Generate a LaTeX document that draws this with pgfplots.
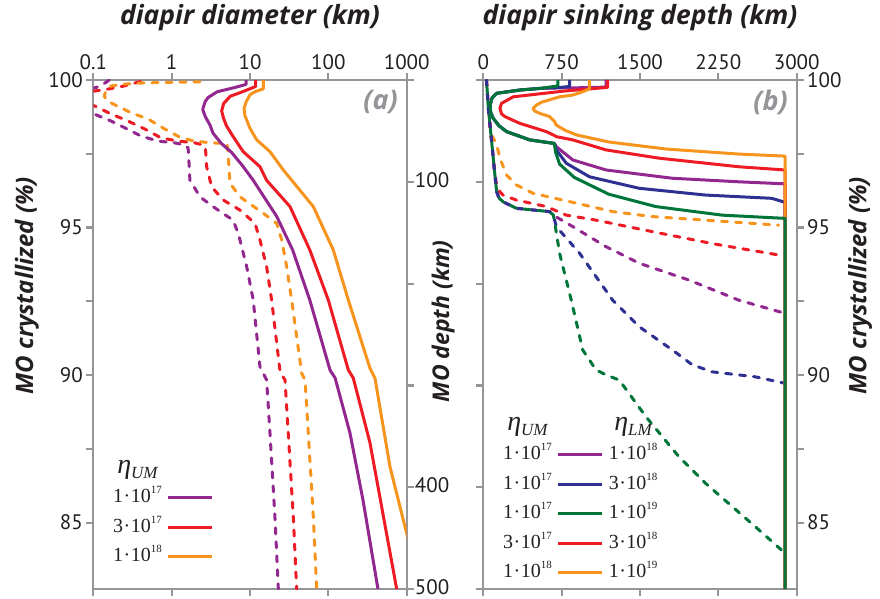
\documentclass[border=0pt]{standalone}
\usepackage{fontspec}
\setmainfont{PT Sans}
\newfontfamily\legfont{Liberation Serif}
\newfontfamily\labfont{Open Sans}
\usepackage{pgfplots}
\pgfplotsset{compat=1.18}

\definecolor{cgray}{HTML}{939598}
\definecolor{ctext}{HTML}{231F20}
\definecolor{cpur}{HTML}{92278F}
\definecolor{cred}{HTML}{ED1C24}
\definecolor{corg}{HTML}{F7941D}
\definecolor{cblu}{HTML}{2E3192}
\definecolor{cgrn}{HTML}{00753A}

% legend texts: 1.10^17 and eta_UM
\newcommand\ev[2]{#1\kern0.5pt·\kern0.5pt10\raisebox{0.45em}{\fontsize{11}{12}\selectfont #2}}
\newcommand\visc[1]{{\fontsize{28}{30}\selectfont\itshape η}\raisebox{-0.25em}{\fontsize{17}{18}\selectfont\itshape #1}}

\pgfplotsset{
  panel/.style={
    scale only axis, width=313.4pt, height=509pt, anchor=south west,
    ymin=82.75, ymax=100,
    ytick={85,87.5,90,92.5,95,97.5,100}, yticklabels={85,,90,,95,,100},
    axis line style={cgray, line width=2.2pt},
    every tick/.style={cgray, line width=2.2pt},
    major tick length=7pt, tick align=outside,
    ticklabel style={font=\fontsize{21}{24}\selectfont, text=ctext},
    /pgf/number format/assume math mode=true,
    title style={font=\labfont\fontsize{26.5}{30}\selectfont\bfseries\itshape, text=ctext,
      at={(axis description cs:0.5,1)}, anchor=center, yshift=56pt},
    label style={font=\labfont\fontsize{24}{28}\selectfont\bfseries\itshape, text=ctext},
    legend style={draw=none, fill=none, inner sep=0pt,
      font=\legfont\fontsize{20}{24}\selectfont, text=ctext,
      nodes={inner sep=0pt, inner xsep=3pt, text height=14pt, text depth=4pt},
      row sep=11.5pt, column sep=2pt},
    legend cell align=center, legend plot pos=right,
    legend image code/.code={\draw[##1, line width=3pt, solid] (0pt,0pt) -- (44pt,0pt);},
  },
  depth/.style={
    scale only axis, width=313.4pt, height=509pt, anchor=south west,
    xmin=0, xmax=1, ymin=0, ymax=500, y dir=reverse, hide x axis,
    axis line style={draw=none},
    every tick/.style={cgray, line width=2.2pt},
    major tick length=7pt, tick align=outside,
    ytick={0,100,200,300,400,500},
    ticklabel style={font=\fontsize{21}{24}\selectfont, text=ctext},
    label style={font=\labfont\fontsize{23}{26}\selectfont\bfseries\itshape, text=ctext},
  },
  sol/.style={line width=3pt, line join=round, forget plot},
  das/.style={line width=3pt, line cap=round, line join=round, dash pattern=on 6pt off 8pt, forget plot},
}

\begin{document}
\begin{tikzpicture}
\useasboundingbox (0,0) rectangle (880pt,599pt);

% ---------------- (a) diapir diameter ----------------
\begin{axis}[panel, at={(93.3pt,10pt)},
  xmode=log, xmin=0.1, xmax=1000, xminorticks=false,
  xtick={0.1,1,10,100,1000}, xticklabels={0.1,1,10,100,1000},
  xtick pos=both, xticklabel pos=top, ytick pos=left,
  title={diapir diameter (km)},
  ylabel={MO crystallized (\%)},
  ylabel style={at={(axis description cs:-0.212,0.596)}, anchor=center},
  legend style={at={(axis description cs:0.053,0.255)}, anchor=north west},
]
\addlegendimage{empty legend}\addlegendentry{\visc{UM}}
\addlegendimage{cpur}\addlegendentry{\ev{1}{17}}
\addlegendimage{cred}\addlegendentry{\ev{3}{17}}
\addlegendimage{corg}\addlegendentry{\ev{1}{18}}

% dashed
\addplot[das, cpur] coordinates {(0.16,100) (0.125,99.8) (0.1,99.72) (0.06,99.5) (0.06,99.1)
 (0.104,98.84) (0.168,98.61) (0.252,98.38) (0.406,98.10) (0.67,97.93) (1.09,97.87) (1.45,97.8)
 (1.62,97.7) (1.64,97.53) (1.71,96.61) (2.30,96.04) (3.37,95.71) (6.07,95.25) (7.09,94.80)
 (9.08,93.67) (11.0,92.54) (13.4,90.28) (16.3,89.83) (18.0,88.02) (20.8,85.20) (23.0,82.75)};
\addplot[das, cred] coordinates {(0.40,99.95) (0.25,99.8) (0.16,99.7) (0.1,99.62) (0.06,99.4)
 (0.07,99.2) (0.104,99.12) (0.168,98.85) (0.277,98.61) (0.453,98.34) (0.731,98.04) (1.2,97.93)
 (1.97,97.87) (2.5,97.8) (2.7,97.7) (2.8,97.06) (3.24,96.38) (4.56,95.93) (7.45,95.59)
 (11.6,95.14) (13.4,94.58) (16.3,93.67) (18.9,92.54) (24.2,90.11) (28.0,89.83) (30.8,88.02)
 (35.7,85.20) (39.4,82.75)};
\addplot[das, corg] coordinates {(2.3,99.94) (1.0,99.92) (0.43,99.9) (0.25,99.86) (0.17,99.8)
 (0.145,99.65) (0.138,99.45) (0.15,99.3) (0.178,99.19) (0.226,99.06) (0.303,98.89) (0.499,98.68)
 (0.815,98.34) (1.316,98.04) (1.97,97.93) (3.18,97.87) (5.04,97.85) (5.2,97.7) (5.28,97.40)
 (5.56,96.50) (7.45,96.04) (14.8,95.48) (21.9,95.14) (25.4,94.58) (29.4,93.67) (34.0,92.54)
 (45.7,90.06) (50.4,89.83) (55.5,88.02) (64.3,85.20) (71.0,82.75)};
% solid
\addplot[sol, cpur] coordinates {(8.9,100) (8.9,99.85) (6.5,99.75) (3.8,99.6) (2.9,99.4)
 (2.67,99.26) (2.49,99.0) (2.7,98.75) (3.09,98.47) (3.37,98.2) (4.3,97.85) (5.8,97.55)
 (8,97.1) (11,96.6) (22,95.37) (35,94.24) (58,92.54) (105,90.17) (122,89.9) (189,88.03)
 (277,85.76) (430,82.75)};
\addplot[sol, cred] coordinates {(11.8,100) (11.8,99.78) (8,99.6) (5.6,99.45) (4.6,99.2)
 (4.35,98.95) (4.6,98.7) (5.0,98.45) (6.1,98.08) (8.2,97.57) (13.4,97.06) (16.3,96.6)
 (32.4,95.71) (58,94.24) (100,92.54) (180,90.17) (208,89.9) (340,87.7) (745,82.75)};
\addplot[sol, corg] coordinates {(14.8,100) (14.8,99.7) (11.5,99.6) (10,99.5) (8.9,99.25)
 (8.4,99.04) (8.6,98.8) (10,98.36) (12.2,97.97) (18,97.57) (26.6,96.95) (64.3,95.71)
 (115.6,94.24) (180,92.54) (340,90.23) (394,89.89) (612,86.89) (1000,84.63) (1510,82.75)};

\node[anchor=north east, inner sep=0pt, font=\labfont\fontsize{27}{30}\selectfont\bfseries\itshape,
  text=cgray] at (axis description cs:0.972,0.98) {(a)};
\end{axis}

% depth axis on the right side of (a)
\begin{axis}[depth, at={(93.3pt,10pt)},
  ytick pos=right, yticklabel pos=right,
  yticklabels={,100,,,400,500},
  yticklabel style={inner sep=1pt, yshift=2pt},
  ylabel={MO depth (km)},
  ylabel style={at={(axis description cs:1.116,0.526)}, anchor=center},
]
\end{axis}

% ---------------- (b) diapir sinking depth ----------------
\begin{axis}[panel, at={(483.3pt,10pt)},
  xmin=0, xmax=3000,
  xtick={0,750,1500,2250,3000}, xticklabels={0,750,1500,2250,3000},
  xtick pos=both, xticklabel pos=top, ytick pos=right, yticklabel pos=right,
  title={diapir sinking depth (km)},
  ylabel={MO crystallized (\%)},
  ylabel style={at={(axis description cs:1.202,0.596)}, anchor=center},
  legend columns=2,
  legend style={at={(axis description cs:0.053,0.34)}, anchor=north west},
]
\addlegendimage{empty legend}\addlegendentry{\visc{UM}}
\addlegendimage{empty legend}\addlegendentry{\visc{LM}}
\addlegendimage{cpur}\addlegendentry{\ev{1}{17}}
\addlegendimage{empty legend}\addlegendentry{\ev{1}{18}}
\addlegendimage{cblu}\addlegendentry{\ev{1}{17}}
\addlegendimage{empty legend}\addlegendentry{\ev{3}{18}}
\addlegendimage{cgrn}\addlegendentry{\ev{1}{17}}
\addlegendimage{empty legend}\addlegendentry{\ev{1}{19}}
\addlegendimage{cred}\addlegendentry{\ev{3}{17}}
\addlegendimage{empty legend}\addlegendentry{\ev{3}{18}}
\addlegendimage{corg}\addlegendentry{\ev{1}{18}}
\addlegendimage{empty legend}\addlegendentry{\ev{1}{19}}

% dashed
\addplot[das, corg] coordinates {(30,100) (40,99.5) (48,99.04) (70,98.2) (100,98.0) (128,97.8)
 (159,97.35) (223,96.78) (318,96.44) (476,96.16) (762,95.93) (1238,95.54) (1619,95.37)
 (2128,95.25) (2826,95.08)};
\addplot[das, cred] coordinates {(30,100) (40,99.5) (48,99.04) (80,97.91) (111,96.78)
 (128,96.44) (160,96.2) (190,96.10) (318,95.93) (604,95.71) (794,95.42) (1080,95.25)
 (1619,94.86) (2200,94.45) (2826,94.07)};
\addplot[das, cpur] coordinates {(30,100) (40,99.5) (48,99.04) (80,97.91) (111,96.78)
 (128,96.21) (150,96.0) (190,95.87) (318,95.65) (635,95.54) (670,95.42) (857,95.03)
 (1175,94.35) (1492,93.79) (1968,93.22) (2445,92.54) (2890,92.09)};
\addplot[das, cblu] coordinates {(30,100) (40,99.5) (48,99.04) (80,97.91) (111,96.78)
 (128,96.21) (150,96.0) (190,95.87) (318,95.65) (635,95.54) (670,95.42) (699,95.03)
 (921,94.13) (1238,92.54) (1492,91.64) (1810,90.85) (2000,90.35) (2190,90.11) (2604,89.94)
 (2890,89.72)};
\addplot[das, cgrn, dash phase=7pt] coordinates {(30,100) (40,99.5) (48,99.04) (80,97.91)
 (111,96.78) (128,96.21) (150,96.0) (190,95.87) (318,95.65) (635,95.54) (670,95.42)
 (683,95.2) (700,94.8) (730,94.13) (842,92.54) (952,90.85) (1080,90.17) (1180,90.0)
 (1302,89.83) (1556,88.59) (1873,87.23) (2128,86.33) (2604,84.86) (2890,83.96)};
% solid
\addplot[sol, cpur] coordinates {(1175,100) (1175,99.76) (1000,99.74) (714,99.73) (560,99.72)
 (350,99.66) (130,99.55) (85,99.4) (64,99.15) (70,98.9) (95,98.70) (150,98.45) (223,98.25)
 (445,97.97) (620,97.88) (680,97.85) (699,97.74) (857,97.29) (1175,96.95) (1810,96.67)
 (2445,96.55) (2890,96.48) (2890,82.75)};
\addplot[sol, cblu] coordinates {(826,100) (826,99.78) (714,99.74) (560,99.72) (350,99.66)
 (130,99.55) (85,99.4) (64,99.15) (70,98.9) (95,98.70) (150,98.45) (223,98.25) (445,97.97)
 (620,97.88) (680,97.85) (699,97.63) (794,97.18) (1016,96.72) (1492,96.33) (2128,96.10)
 (2762,95.99) (2873,95.87) (2890,95.85) (2890,82.75)};
\addplot[sol, cred] coordinates {(1190,100) (1190,99.75) (762,99.62) (286,99.43) (175,99.21)
 (159,99.04) (175,98.85) (207,98.76) (350,98.53) (604,98.25) (680,98.12) (699,98.08)
 (857,97.97) (1175,97.63) (1683,97.35) (2445,97.06) (2890,96.95) (2890,82.75)};
\addplot[sol, corg] coordinates {(1016,100) (1016,99.7) (950,99.6) (857,99.49) (730,99.43)
 (560,99.25) (509,99.15) (476,99.04) (490,98.95) (540,98.87) (635,98.76) (680,98.6)
 (699,98.47) (780,98.3) (890,98.14) (1200,97.9) (1750,97.66) (2445,97.49) (2890,97.42)
 (2890,82.75)};
\addplot[sol, cgrn] coordinates {(714,100) (714,99.8) (560,99.72) (350,99.66) (130,99.55)
 (85,99.4) (64,99.15) (70,98.9) (95,98.70) (150,98.45) (223,98.25) (445,97.97) (620,97.88)
 (680,97.85) (692,97.55) (730,97.15) (870,96.7) (1200,96.13) (1651,95.71) (2286,95.42)
 (2890,95.31) (2890,82.75)};

\node[anchor=north east, inner sep=0pt, font=\labfont\fontsize{27}{30}\selectfont\bfseries\itshape,
  text=cgray] at (axis description cs:0.972,0.98) {(b)};
\end{axis}

% depth ticks on the left side of (b)
\begin{axis}[depth, at={(483.3pt,10pt)},
  ytick pos=left, yticklabels={},
]
\end{axis}
\end{tikzpicture}
\end{document}
